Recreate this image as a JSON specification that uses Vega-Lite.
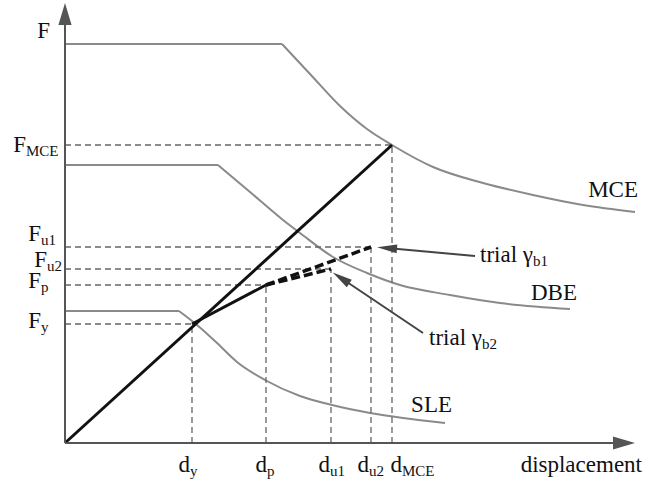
{
  "$schema": "https://vega.github.io/schema/vega-lite/v6.json",
  "width": 649,
  "height": 482,
  "autosize": "none",
  "padding": 0,
  "background": "white",
  "config": {"view": {"stroke": null}, "font": "Liberation Serif", "text": {"font": "Liberation Serif"}},
  "encoding": {
    "x": {"field": "d", "type": "quantitative", "scale": {"domain": [-65, 584], "nice": false, "zero": false}, "axis": null},
    "y": {"field": "f", "type": "quantitative", "scale": {"domain": [-39, 443], "nice": false, "zero": false}, "axis": null}
  },
  "layer": [
    {
      "data": {"values": [
        {"spectrum": "MCE", "d": 0, "f": 399}, {"spectrum": "MCE", "d": 217, "f": 399},
        {"spectrum": "DBE", "d": 0, "f": 278}, {"spectrum": "DBE", "d": 153, "f": 278},
        {"spectrum": "SLE", "d": 0, "f": 132}, {"spectrum": "SLE", "d": 114, "f": 132}
      ]},
      "mark": {"type": "line", "color": "#8a8a8a", "strokeWidth": 2},
      "encoding": {"detail": {"field": "spectrum"}}
    },
    {
      "data": {"values": [
        {"spectrum": "MCE", "d": 217, "f": 399}, {"spectrum": "MCE", "d": 245, "f": 369},
        {"spectrum": "MCE", "d": 275, "f": 337}, {"spectrum": "MCE", "d": 302, "f": 314}, {"spectrum": "MCE", "d": 327, "f": 298},
        {"spectrum": "MCE", "d": 368, "f": 276}, {"spectrum": "MCE", "d": 418, "f": 260}, {"spectrum": "MCE", "d": 468, "f": 248},
        {"spectrum": "MCE", "d": 518, "f": 238}, {"spectrum": "MCE", "d": 570, "f": 231},
        {"spectrum": "DBE", "d": 153, "f": 278}, {"spectrum": "DBE", "d": 185, "f": 251},
        {"spectrum": "DBE", "d": 218, "f": 223}, {"spectrum": "DBE", "d": 235, "f": 210}, {"spectrum": "DBE", "d": 268, "f": 186},
        {"spectrum": "DBE", "d": 302, "f": 170}, {"spectrum": "DBE", "d": 335, "f": 158}, {"spectrum": "DBE", "d": 385, "f": 148},
        {"spectrum": "DBE", "d": 435, "f": 140}, {"spectrum": "DBE", "d": 505, "f": 134},
        {"spectrum": "SLE", "d": 114, "f": 132}, {"spectrum": "SLE", "d": 132, "f": 118},
        {"spectrum": "SLE", "d": 152, "f": 100}, {"spectrum": "SLE", "d": 172, "f": 81}, {"spectrum": "SLE", "d": 200, "f": 63},
        {"spectrum": "SLE", "d": 235, "f": 47}, {"spectrum": "SLE", "d": 267, "f": 38}, {"spectrum": "SLE", "d": 305, "f": 30},
        {"spectrum": "SLE", "d": 338, "f": 25}, {"spectrum": "SLE", "d": 380, "f": 20}
      ]},
      "mark": {"type": "line", "color": "#8a8a8a", "strokeWidth": 2, "interpolate": "monotone"},
      "encoding": {"detail": {"field": "spectrum"}}
    },
    {
      "data": {"name": "guides", "values": [
        {"level": "MCE", "d": 327, "f": 298}, {"level": "u1", "d": 306, "f": 196}, {"level": "u2", "d": 266, "f": 174},
        {"level": "p", "d": 201, "f": 158}, {"level": "y", "d": 127, "f": 119}
      ]},
      "mark": {"type": "rule", "color": "#666666", "strokeWidth": 1.3, "strokeDash": [6, 4]},
      "encoding": {
        "x": {"datum": 0, "type": "quantitative", "scale": {"domain": [-65, 584], "nice": false, "zero": false}, "axis": null},
        "x2": {"field": "d"}
      }
    },
    {
      "data": {"name": "guides"},
      "mark": {"type": "rule", "color": "#666666", "strokeWidth": 1.3, "strokeDash": [6, 4]},
      "encoding": {
        "y": {"datum": 0, "type": "quantitative", "scale": {"domain": [-39, 443], "nice": false, "zero": false}, "axis": null},
        "y2": {"field": "f"}
      }
    },
    {
      "data": {"values": [
        {"segment": "elastic", "d": 0, "f": 0}, {"segment": "elastic", "d": 327, "f": 298},
        {"segment": "bilinear", "d": 127, "f": 119}, {"segment": "bilinear", "d": 201, "f": 158}
      ]},
      "mark": {"type": "line", "color": "#111111", "strokeWidth": 3},
      "encoding": {"detail": {"field": "segment"}}
    },
    {
      "data": {"values": [
        {"trial": "b1", "d": 201, "f": 158}, {"trial": "b1", "d": 306, "f": 196},
        {"trial": "b2", "d": 201, "f": 158}, {"trial": "b2", "d": 266, "f": 174}
      ]},
      "mark": {"type": "line", "color": "#111111", "strokeWidth": 3.5, "strokeDash": [9, 4], "strokeCap": "butt"},
      "encoding": {"detail": {"field": "trial"}}
    },
    {
      "data": {"values": [
        {"arrow": "b1", "d": 410, "f": 187}, {"arrow": "b1", "d": 322, "f": 195},
        {"arrow": "b2", "d": 358, "f": 110}, {"arrow": "b2", "d": 276, "f": 165}
      ]},
      "mark": {"type": "line", "color": "#444444", "strokeWidth": 2},
      "encoding": {"detail": {"field": "arrow"}}
    },
    {
      "data": {"values": [
        {"axis": "F", "d": 0, "f": 0}, {"axis": "F", "d": 0, "f": 418},
        {"axis": "displacement", "d": 0, "f": 0}, {"axis": "displacement", "d": 550, "f": 0}
      ]},
      "mark": {"type": "line", "color": "#555555", "strokeWidth": 2},
      "encoding": {"detail": {"field": "axis"}}
    },
    {
      "data": {"values": [{"head": "F", "d": 0, "f": 429}]},
      "mark": {"type": "point", "shape": "M-1,0L1,-0.6L1,0.6Z", "angle": 90, "size": 484, "filled": true, "color": "#555555", "opacity": 1, "strokeWidth": 0}
    },
    {
      "data": {"values": [{"head": "displacement", "d": 559, "f": 0}]},
      "mark": {"type": "point", "shape": "M-1,0L1,-0.6L1,0.6Z", "angle": 180, "size": 484, "filled": true, "color": "#555555", "opacity": 1, "strokeWidth": 0}
    },
    {
      "data": {"values": [{"head": "b1", "d": 322, "f": 195}]},
      "mark": {"type": "point", "shape": "M-1,0L1,-0.45L1,0.45Z", "angle": 5, "size": 400, "filled": true, "color": "#444444", "opacity": 1, "strokeWidth": 0}
    },
    {
      "data": {"values": [{"head": "b2", "d": 276, "f": 165}]},
      "mark": {"type": "point", "shape": "M-1,0L1,-0.45L1,0.45Z", "angle": 34, "size": 400, "filled": true, "color": "#444444", "opacity": 1, "strokeWidth": 0}
    },
    {
      "data": {"name": "labels", "values": [
        {"main": "F", "sub": "", "d": -15, "f": 405},
        {"main": "F", "sub": "MCE", "d": -39, "f": 291},
        {"main": "F", "sub": "u1", "d": -24, "f": 202},
        {"main": "F", "sub": "u2", "d": -18, "f": 176},
        {"main": "F", "sub": "p", "d": -24, "f": 155},
        {"main": "F", "sub": "y", "d": -24, "f": 115},
        {"main": "d", "sub": "y", "d": 125, "f": -29},
        {"main": "d", "sub": "p", "d": 202, "f": -29},
        {"main": "d", "sub": "u1", "d": 265, "f": -29},
        {"main": "d", "sub": "u2", "d": 304, "f": -29},
        {"main": "d", "sub": "MCE", "d": 337, "f": -29},
        {"main": "displacement", "sub": "", "d": 577, "f": -29},
        {"main": "MCE", "sub": "", "d": 573, "f": 246},
        {"main": "DBE", "sub": "", "d": 512, "f": 143},
        {"main": "SLE", "sub": "", "d": 387, "f": 31},
        {"main": "trial γ", "sub": "b1", "d": 468, "f": 181},
        {"main": "trial γ", "sub": "b2", "d": 417, "f": 98}
      ]},
      "mark": {"type": "text", "font": "Liberation Serif", "fontSize": 23, "align": "right", "baseline": "alphabetic", "color": "#111111"},
      "encoding": {"text": {"field": "main"}}
    },
    {
      "data": {"name": "labels"},
      "mark": {"type": "text", "font": "Liberation Serif", "fontSize": 15, "align": "left", "baseline": "alphabetic", "dy": 4, "color": "#111111"},
      "encoding": {"text": {"field": "sub"}}
    }
  ]
}
